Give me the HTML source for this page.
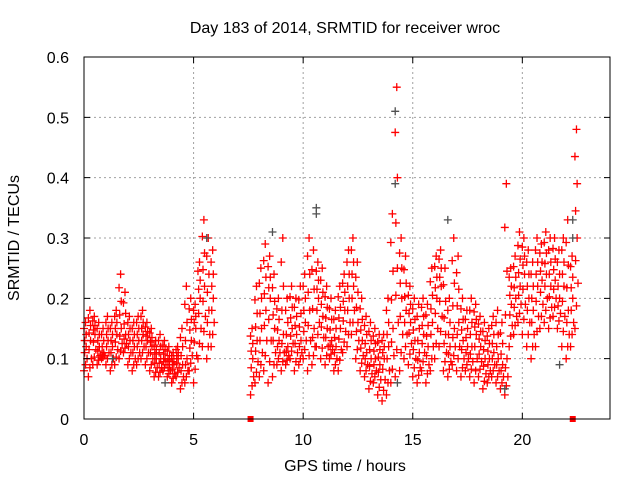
<!DOCTYPE html>
<html><head><meta charset="utf-8"><style>
body{margin:0;background:#fff}
text{font-family:"Liberation Sans",sans-serif;font-size:16px;fill:#000}
</style></head><body>
<svg id="chart" width="640" height="480" xmlns="http://www.w3.org/2000/svg">
<rect width="640" height="480" fill="#fff"/>
<text x="345" y="33" text-anchor="middle">Day 183 of 2014, SRMTID for receiver wroc</text>
<text x="345" y="471" text-anchor="middle">GPS time / hours</text>
<text transform="translate(19,238) rotate(-90)" text-anchor="middle">SRMTID / TECUs</text>
<g id="grid"></g><g id="pts"></g><g id="axes"></g>
</svg>
<script>
const xTicks=[0,5,10,15,20];
const yTicks=[0,0.1,0.2,0.3,0.4,0.5,0.6];
const yTickLabels=["0","0.1","0.2","0.3","0.4","0.5","0.6"];
const times=[0,0.2,0.4,0.6,0.8,1.0,1.2,1.4,1.6,1.8,2.0,2.2,2.4,2.6,2.8,3.0,3.2,3.4,3.6,3.8,4.0,4.2,4.4,4.6,4.8,5.0,5.2,5.4,5.6,5.8,
7.6,7.8,8.0,8.2,8.4,8.6,8.8,9.0,9.2,9.4,9.6,9.8,10.0,10.2,10.4,10.6,10.8,11.0,11.2,11.4,11.6,11.8,12.0,12.2,12.4,12.6,12.8,13.0,13.2,13.4,
13.6,13.8,14.0,14.2,14.4,14.6,14.8,15.0,15.2,15.4,15.6,15.8,16.0,16.2,16.4,16.6,16.8,17.0,17.2,17.4,17.6,17.8,18.0,18.2,18.4,18.6,18.8,19.0,19.2,19.4,
19.6,19.8,20.0,20.2,20.4,20.6,20.8,21.0,21.2,21.4,21.6,21.8,22.0,22.2,22.4];
const redLow=[0.08,0.07,0.09,0.09,0.1,0.09,0.08,0.09,0.1,0.11,0.09,0.08,0.09,0.1,0.09,0.08,0.07,0.07,0.08,0.07,0.06,0.07,0.05,0.06,0.08,0.06,0.1,0.12,0.1,0.12,
0.04,0.06,0.07,0.08,0.06,0.07,0.09,0.08,0.09,0.1,0.08,0.09,0.1,0.08,0.09,0.12,0.1,0.09,0.1,0.08,0.08,0.11,0.12,0.14,0.1,0.08,0.07,0.05,0.06,0.04,
0.03,0.04,0.06,0.07,0.08,0.1,0.09,0.07,0.06,0.08,0.06,0.08,0.1,0.12,0.08,0.07,0.09,0.08,0.07,0.08,0.07,0.06,0.07,0.05,0.06,0.07,0.06,0.05,0.04,0.12,
0.14,0.16,0.14,0.12,0.1,0.12,0.15,0.16,0.15,0.17,0.15,0.12,0.1,0.12,0.15];
const redMid=[0.12,0.13,0.14,0.12,0.11,0.13,0.12,0.14,0.15,0.14,0.13,0.12,0.13,0.14,0.13,0.12,0.1,0.1,0.1,0.09,0.09,0.1,0.09,0.1,0.13,0.15,0.2,0.22,0.18,0.2,
0.1,0.13,0.15,0.18,0.2,0.15,0.13,0.14,0.12,0.15,0.14,0.13,0.16,0.18,0.15,0.2,0.17,0.15,0.13,0.12,0.15,0.18,0.2,0.22,0.16,0.13,0.11,0.1,0.1,0.09,
0.1,0.12,0.15,0.25,0.2,0.18,0.16,0.13,0.11,0.14,0.12,0.16,0.2,0.22,0.14,0.12,0.15,0.16,0.13,0.12,0.12,0.14,0.12,0.1,0.1,0.11,0.1,0.09,0.1,0.19,
0.2,0.22,0.24,0.2,0.18,0.22,0.23,0.24,0.22,0.23,0.2,0.22,0.18,0.2,0.3];
const redHigh=[0.16,0.18,0.17,0.16,0.15,0.17,0.16,0.18,0.24,0.21,0.17,0.16,0.17,0.18,0.16,0.15,0.13,0.14,0.13,0.12,0.11,0.12,0.15,0.22,0.2,0.19,0.26,0.33,0.3,0.28,
0.15,0.22,0.25,0.29,0.27,0.24,0.2,0.3,0.2,0.22,0.2,0.22,0.24,0.3,0.28,0.26,0.25,0.22,0.2,0.18,0.22,0.24,0.28,0.3,0.26,0.2,0.17,0.16,0.15,0.14,
0.14,0.2,0.34,0.55,0.3,0.27,0.22,0.2,0.19,0.2,0.19,0.25,0.27,0.28,0.25,0.2,0.3,0.27,0.2,0.18,0.2,0.19,0.17,0.16,0.15,0.17,0.18,0.16,0.39,0.25,
0.27,0.31,0.3,0.28,0.26,0.3,0.29,0.31,0.3,0.3,0.28,0.3,0.33,0.27,0.48];
const grayT=[1.3,3.7,5.6,8.6,10.6,10.6,14.2,14.2,14.3,16.6,19.2,21.7,22.3,22.3];
const grayV=[0.1,0.06,0.3,0.31,0.35,0.34,0.51,0.39,0.06,0.33,0.05,0.09,0.33,0.3];
const sqT=[7.6,22.3];
const sqV=[0,0];
const X0=84,X1=610,Y0=419,Y1=57;
const xs=t=>X0+(X1-X0)*t/24;
const ys=v=>Y0-(Y0-Y1)*v/0.6;
const NS="http://www.w3.org/2000/svg";
function mk(tag,attrs,parent){const e=document.createElementNS(NS,tag);for(const k in attrs)e.setAttribute(k,attrs[k]);parent.appendChild(e);return e;}
const grid=document.getElementById('grid'),pts=document.getElementById('pts'),axes=document.getElementById('axes');
yTicks.forEach((v,i)=>{
  if(v>0&&v<0.6){const g=mk('line',{x1:X0,x2:X1,y1:ys(v),y2:ys(v),stroke:'#a0a0a0','stroke-dasharray':'2,3'},grid);
  
  }
  const tk=mk('path',{d:`M${X0},${ys(v)}h6M${X1},${ys(v)}h-6`,stroke:'#000'},axes);
  
  
  const t=mk('text',{x:X0-15,y:ys(v)+6,'text-anchor':'end'},axes);t.textContent=yTickLabels[i];
  
  
});
xTicks.forEach(v=>{
  if(v>0){const g=mk('line',{x1:xs(v),x2:xs(v),y1:Y0,y2:Y1,stroke:'#a0a0a0','stroke-dasharray':'2,3'},grid);
  
  }
  const tk=mk('path',{d:`M${xs(v)},${Y0}v-6M${xs(v)},${Y1}v6`,stroke:'#000'},axes);
  
  
  const t=mk('text',{x:xs(v),y:Y0+26,'text-anchor':'middle'},axes);t.textContent=String(v);
  
  
});
const fr=mk('rect',{x:X0,y:Y1,width:X1-X0,height:Y0-Y1,fill:'none',stroke:'#000'},axes);


function plus(t,v,c,name){const p=mk('path',{d:`M${xs(t)-4},${ys(v)}h8M${xs(t)},${ys(v)-4}v8`,stroke:c,'stroke-width':1.3},pts);
  
  }
const fracs=[0,0.25,0.5,0.75,1];
const offs=[0,0.07,0.14,0.03,0.1];
times.forEach((t,i)=>{
  const l=redLow[i],m=redMid[i],h=redHigh[i];
  fracs.forEach((f,j)=>{
    plus(t+offs[j],l+(m-l)*f,'#ff0000','red-point');
    if(f>0)plus(t+offs[(j+2)%5],m+(h-m)*f,'#ff0000','red-point');
  });
});
grayT.forEach((t,i)=>plus(t,grayV[i],'#505050','gray-point'));
sqT.forEach((t,i)=>{const r=mk('rect',{x:xs(t)-3,y:ys(sqV[i])-3,width:6,height:6,fill:'#ff0000'},pts);
  
  });
</script>
</body></html>
